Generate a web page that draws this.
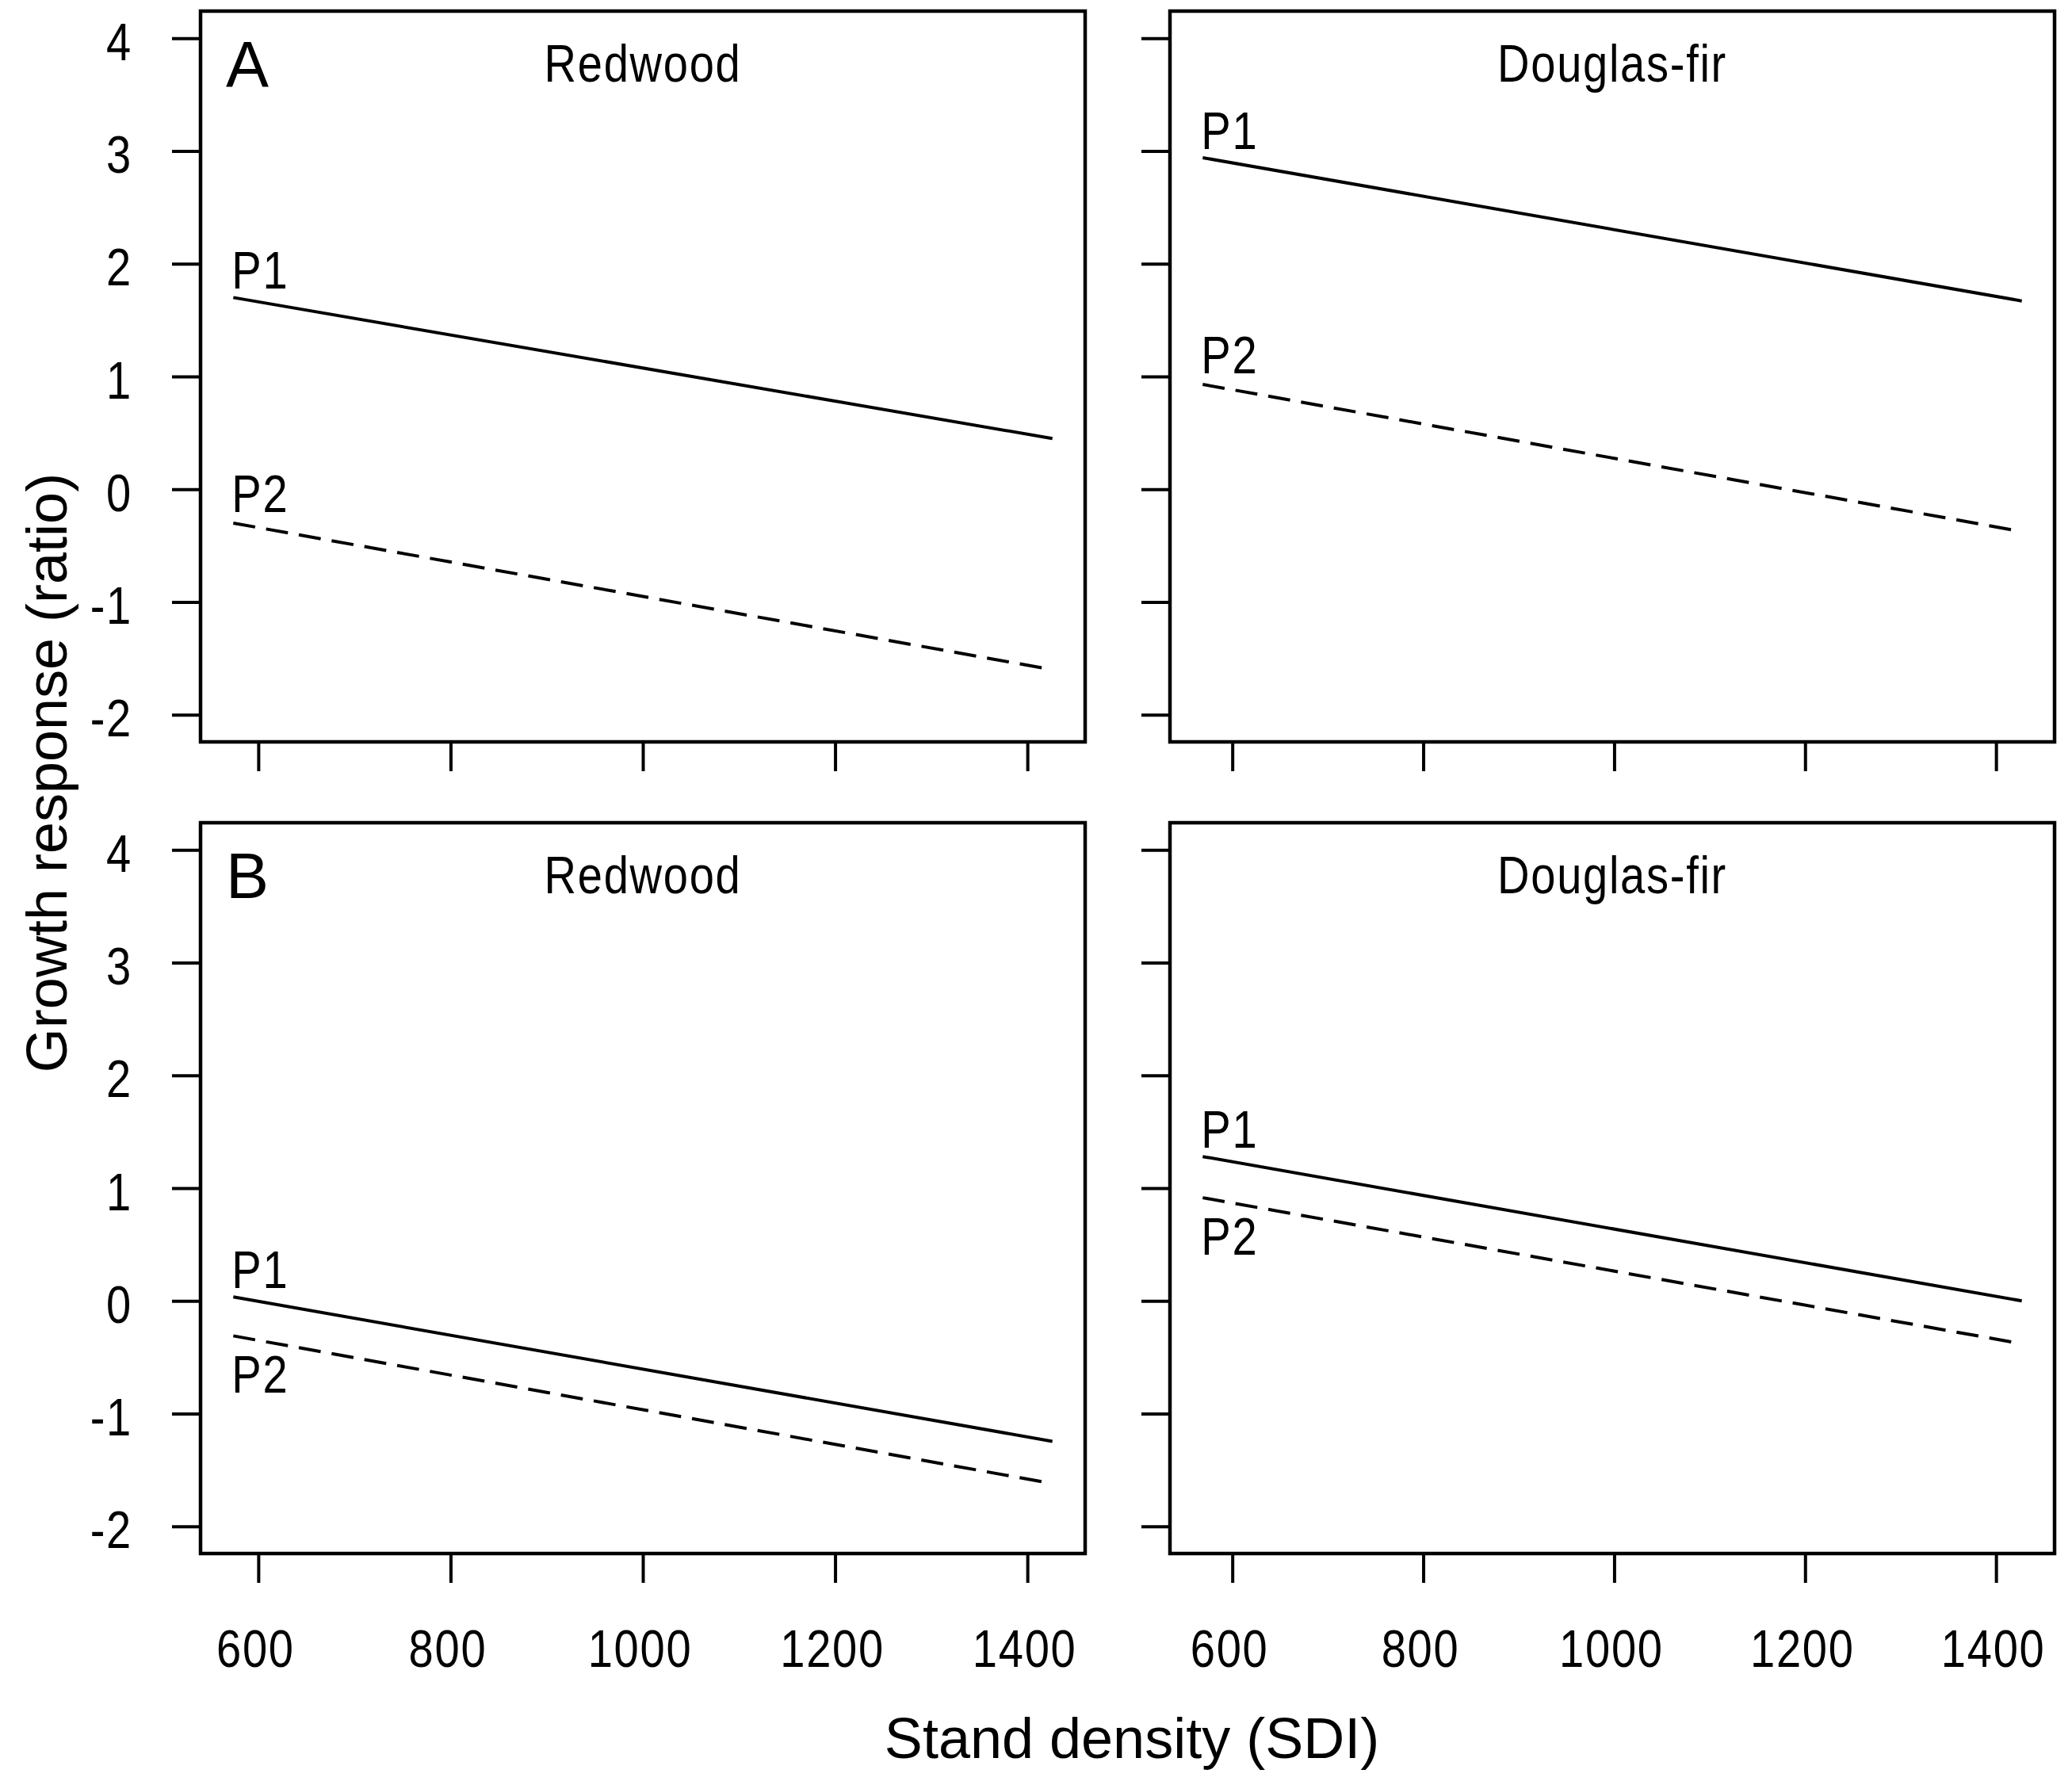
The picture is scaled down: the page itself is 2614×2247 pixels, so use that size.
<!DOCTYPE html>
<html>
<head>
<meta charset="utf-8">
<script src="https://cdn.jsdelivr.net/npm/d3@7"></script>
<style>
  body { margin: 0; background: #fff; }
  svg { display: block; }
</style>
</head>
<body>
<div id="chart"></div>
<script>
// Tick values shared by all four panels
const xTicks = [600, 800, 1000, 1200, 1400];
const yTicks = [-2, -1, 0, 1, 2, 3, 4];
const yLim = [-2, 4];

const rowLetters = ["A", "B"];
const species = ["Redwood", "Douglas-fir"];

// SDI where each fitted line starts / ends
const sdiRedwood = [574, 1426];
const sdiDouglas = [569, 1427];

// Growth response at those two SDI values
const redwoodP1A = [1.70, 0.45];
const redwoodP2A = [-0.30, -1.60];
const douglasP1A = [2.94, 1.67];
const douglasP2A = [0.93, -0.375];
const redwoodP1B = [0.035, -1.245];
const redwoodP2B = [-0.31, -1.62];
const douglasP1B = [1.28, 0.0];
const douglasP2B = [0.915, -0.38];

const width = 2614;
const height = 2247;

// panel boxes (pixels)
const colX = [253, 1476];
const rowY = [14, 1038];
const panelW = 1116;
const panelH = 922;

// the original uses a tall narrow screen font, squeeze Liberation Sans to get close
const squeeze = 0.85;
const font = "'Liberation Sans', Arial, sans-serif";

const panels = [
    { row: 0, col: 0, sdi: sdiRedwood, p1: redwoodP1A, p2: redwoodP2A, p2below: false },
    { row: 0, col: 1, sdi: sdiDouglas, p1: douglasP1A, p2: douglasP2A, p2below: false },
    { row: 1, col: 0, sdi: sdiRedwood, p1: redwoodP1B, p2: redwoodP2B, p2below: true },
    { row: 1, col: 1, sdi: sdiDouglas, p1: douglasP1B, p2: douglasP2B, p2below: true }
];

//  R style axis range: data range + 4% on each side
function extend(lim) {
    let d = (lim[1] - lim[0]) * 0.04;
    return [lim[0] - d, lim[1] + d];
}

//  narrow label at (x, y)
function narrowText(parent, x, y, str, anchor) {
    return parent
        .append("text")
        .attr("transform", `translate(${x},${y}) scale(${squeeze},1)`)
        .attr("text-anchor", anchor || "start")
        .text(str)
        .style("font-family", font)
        .style("font-size", "66px")
        .style("letter-spacing", "2px");
}

const svg = d3
    .select("#chart")
    .append("svg")
    .attr("width", width)
    .attr("height", height);

panels.forEach((p) => {
    let x0 = colX[p.col];
    let y0 = rowY[p.row];

    let x = d3
        .scaleLinear()
        .domain(extend(p.sdi))
        .range([x0, x0 + panelW]);

    let y = d3
        .scaleLinear()
        .domain(extend(yLim))
        .range([y0 + panelH, y0]);

    let g = svg.append("g");

    // x axis, labels only on bottom row
    let xAxis = d3
        .axisBottom(x)
        .tickValues(xTicks)
        .tickSize(37)
        .tickSizeOuter(0)
        .tickFormat((d) => (p.row === 0 ? "" : String(d)));

    g.append("g")
        .attr("transform", `translate(0,${y0 + panelH})`)
        .call(xAxis)
        .call((g) => g.select(".domain").remove())
        .call((g) => g.selectAll(".tick line").attr("stroke", "#000").attr("stroke-width", 4))
        .call((g) =>
            g
                .selectAll(".tick text")
                .attr("y", null)
                .attr("dy", null)
                .attr("transform", `translate(-4,143) scale(${squeeze},1)`)
                .attr("fill", "#000")
                .style("font-family", font)
                .style("font-size", "66px")
                .style("letter-spacing", "2px")
        );

    // y axis, labels only on left column
    let yAxis = d3
        .axisLeft(y)
        .tickValues(yTicks)
        .tickSize(36)
        .tickSizeOuter(0)
        .tickFormat((d) => (p.col === 1 ? "" : String(d)));

    g.append("g")
        .attr("transform", `translate(${x0},0)`)
        .call(yAxis)
        .call((g) => g.select(".domain").remove())
        .call((g) => g.selectAll(".tick line").attr("stroke", "#000").attr("stroke-width", 4))
        .call((g) =>
            g
                .selectAll(".tick text")
                .attr("x", null)
                .attr("dy", null)
                .attr("transform", `translate(-86,27) scale(${squeeze},1)`)
                .attr("fill", "#000")
                .style("font-family", font)
                .style("font-size", "66px")
                .style("letter-spacing", "2px")
        );

    // frame
    g.append("rect")
        .attr("x", x0)
        .attr("y", y0)
        .attr("width", panelW)
        .attr("height", panelH)
        .attr("fill", "none")
        .attr("stroke", "#000")
        .attr("stroke-width", 4.5);

    let line = d3
        .line()
        .x((d) => x(d[0]))
        .y((d) => y(d[1]));

    let p1 = d3.zip(p.sdi, p.p1);
    let p2 = d3.zip(p.sdi, p.p2);

    g.append("path")
        .attr("d", line(p1))
        .attr("fill", "none")
        .attr("stroke", "#000")
        .attr("stroke-width", 4);

    g.append("path")
        .attr("d", line(p2))
        .attr("fill", "none")
        .attr("stroke", "#000")
        .attr("stroke-width", 4)
        .attr("stroke-dasharray", "28,14");

    // line labels
    narrowText(g, x(p.sdi[0]) - 2, y(p.p1[0]) - 11, "P1");
    narrowText(g, x(p.sdi[0]) - 2, p.p2below ? y(p.p2[0]) + 72 : y(p.p2[0]) - 14, "P2");

    // species title
    narrowText(g, x0 + panelW / 2, y0 + 89, species[p.col], "middle");

    // panel letter
    if (p.col === 0) {
        g.append("text")
            .attr("x", x0 + 32)
            .attr("y", y0 + 95)
            .text(rowLetters[p.row])
            .style("font-family", font)
            .style("font-size", "81px");
    }
});

// axis titles
svg.append("text")
    .attr("x", 1428)
    .attr("y", 2218)
    .attr("text-anchor", "middle")
    .text("Stand density (SDI)")
    .style("font-family", font)
    .style("font-size", "72px");

svg.append("text")
    .attr("transform", "translate(84,975) rotate(-90)")
    .attr("text-anchor", "middle")
    .text("Growth response (ratio)")
    .style("font-family", font)
    .style("font-size", "72px");
</script>
</body>
</html>
